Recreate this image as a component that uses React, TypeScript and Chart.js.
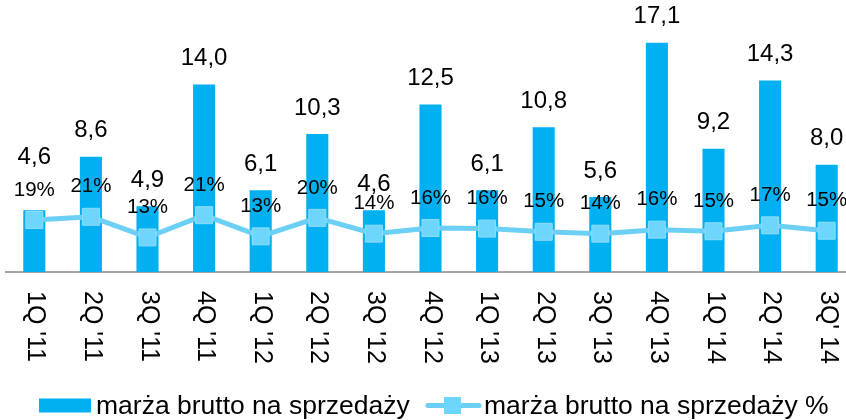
import React, { useEffect, useRef } from "react";
import { Chart, registerables } from "chart.js";

Chart.register(...registerables);

const categories = ["1Q '11", "2Q '11", "3Q '11", "4Q '11", "1Q '12", "2Q '12", "3Q '12", "4Q '12", "1Q '13", "2Q '13", "3Q '13", "4Q '13", "1Q '14", "2Q '14", "3Q' 14"];
const grossMargin = [4.6, 8.6, 4.9, 14.0, 6.1, 10.3, 4.6, 12.5, 6.1, 10.8, 5.6, 17.1, 9.2, 14.3, 8.0];
const grossMarginPct = [19.4, 20.6, 12.9, 21.2, 13.3, 20.2, 14.3, 16.4, 16.2, 15.0, 14.3, 15.8, 15.2, 17.4, 15.4];
const seriesNames = ["marża brutto na sprzedaży", "marża brutto na sprzedaży %"];

const BAR_COLOR = "#00B0F0";
const LINE_COLOR = "#6CD0F6";
const MARKER_COLOR = "#6ED5FD";
const FONT = '"Liberation Sans", Arial, sans-serif';

const labelsPlugin = {
  id: "customLabels",
  afterDatasetsDraw(chart: any) {
    const ctx = chart.ctx;
    const barMeta = chart.getDatasetMeta(1);
    const lineMeta = chart.getDatasetMeta(0);
    ctx.save();
    ctx.fillStyle = "#000";
    ctx.textAlign = "center";
    ctx.textBaseline = "middle";
    ctx.font = `20.5px ${FONT}`;
    const pctY: number[] = [];
    lineMeta.data.forEach((pt: any, i: number) => {
      const y = pt.y - 30;
      pctY.push(y);
      ctx.fillText(Math.round(grossMarginPct[i]) + "%", pt.x, y);
    });
    ctx.font = `24px ${FONT}`;
    barMeta.data.forEach((bar: any, i: number) => {
      let y = bar.y - 26;
      if (Math.abs(y - pctY[i]) < 14) y = pctY[i] - 33;
      ctx.fillText(grossMargin[i].toFixed(1).replace(".", ","), bar.x, y);
    });
    ctx.restore();
  },
  afterDraw(chart: any) {
    const ctx = chart.ctx;
    const x = chart.scales.x;
    const bottom = chart.chartArea.bottom;
    ctx.save();
    ctx.fillStyle = "#000";
    ctx.font = `25px ${FONT}`;
    ctx.textAlign = "left";
    ctx.textBaseline = "middle";
    categories.forEach((c, i) => {
      const px = x.getPixelForValue(i);
      ctx.save();
      ctx.translate(px + 1, bottom + 19);
      ctx.rotate(Math.PI / 2);
      ctx.fillText(c, 0, 0);
      ctx.restore();
    });
    const ly = 405.5;
    ctx.font = `26.5px ${FONT}`;
    ctx.fillStyle = BAR_COLOR;
    ctx.fillRect(39, ly - 7, 52, 14);
    ctx.fillStyle = "#000";
    ctx.fillText(seriesNames[0], 96, ly + 1);
    ctx.strokeStyle = LINE_COLOR;
    ctx.lineWidth = 5;
    ctx.lineCap = "round";
    ctx.beginPath();
    ctx.moveTo(428, ly);
    ctx.lineTo(479, ly);
    ctx.stroke();
    ctx.fillStyle = MARKER_COLOR;
    ctx.fillRect(444, ly - 8.5, 17, 17);
    ctx.fillStyle = "#000";
    ctx.fillText(seriesNames[1], 484, ly + 1);
    ctx.restore();
  },
};

export default function App() {
  const ref = useRef<HTMLCanvasElement | null>(null);
  useEffect(() => {
    if (!ref.current) return;
    const chart = new Chart(ref.current, {
      type: "bar",
      data: {
        labels: categories,
        datasets: [
          {
            type: "line",
            label: seriesNames[1],
            data: grossMarginPct,
            yAxisID: "y2",
            borderColor: LINE_COLOR,
            borderWidth: 5,
            pointStyle: "rect",
            pointRadius: 12,
            pointBackgroundColor: MARKER_COLOR,
            pointBorderColor: "#8EDDFB",
            pointBorderWidth: 1,
            tension: 0,
            order: 0,
          } as any,
          {
            type: "bar",
            label: seriesNames[0],
            data: grossMargin,
            yAxisID: "y",
            backgroundColor: BAR_COLOR,
            barPercentage: 0.39,
            categoryPercentage: 1,
            order: 1,
          },
        ],
      },
      options: {
        animation: false,
        responsive: true,
        maintainAspectRatio: false,
        layout: { autoPadding: false, padding: { left: 6, right: 1, top: 4, bottom: 140 } },
        plugins: { legend: { display: false }, tooltip: { enabled: false } },
        scales: {
          x: {
            grid: { display: false },
            ticks: { display: false },
            border: { display: true, color: "#A6A6A6", width: 2 },
          },
          y: { display: false, min: 0, max: 20 },
          y2: { display: false, min: 0, max: 100 },
        },
      },
      plugins: [labelsPlugin],
    });
    return () => chart.destroy();
  }, []);
  return (
    <div style={{ position: "absolute", left: 0, top: 0, width: 846, height: 420, overflow: "hidden", background: "#fff" }}>
      <div style={{ position: "relative", width: 856, height: 420 }}>
        <canvas ref={ref} />
      </div>
    </div>
  );
}
